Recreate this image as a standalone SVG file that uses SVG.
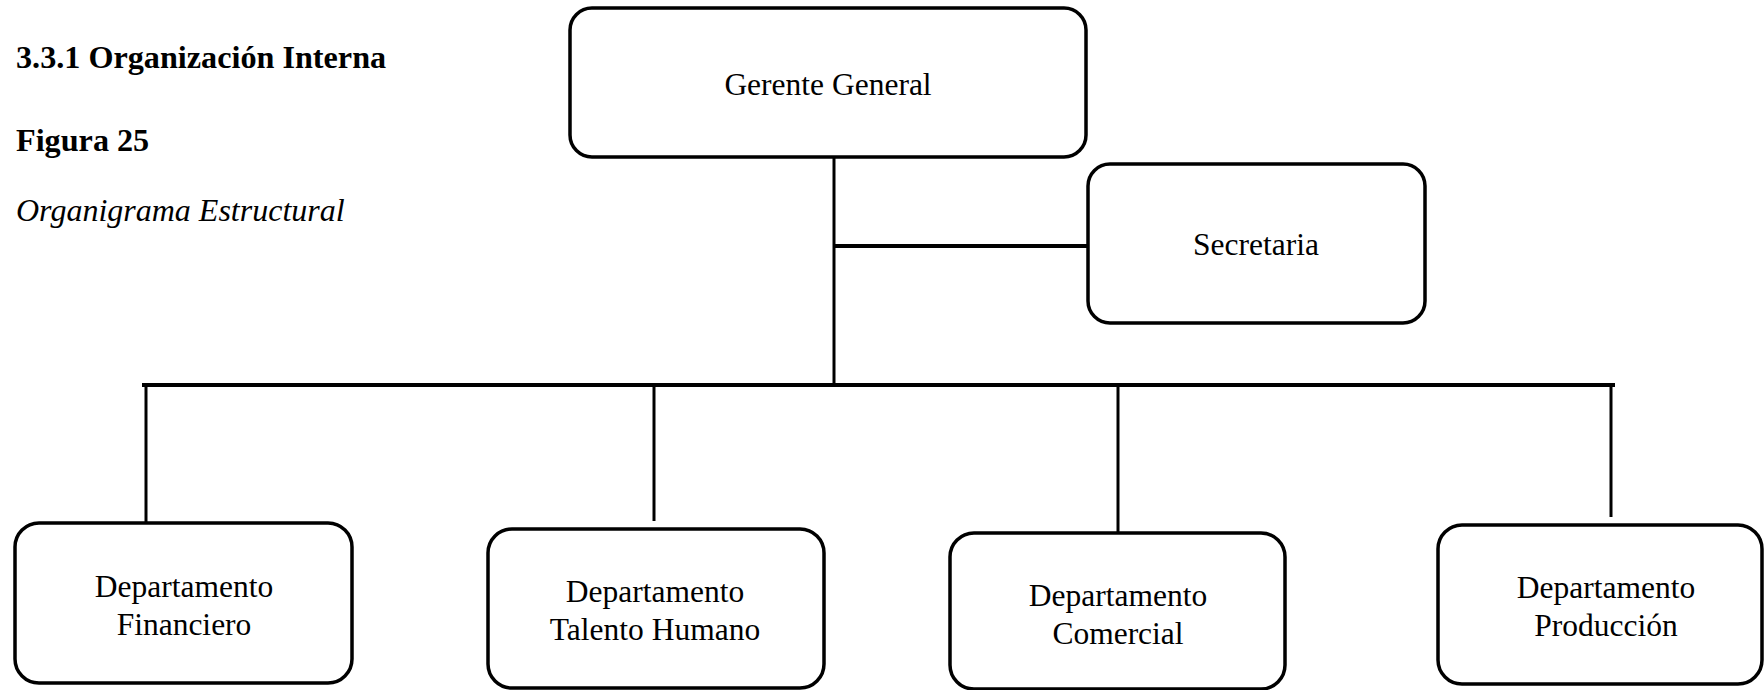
<svg xmlns="http://www.w3.org/2000/svg" width="1764" height="690" viewBox="0 0 1764 690">
  <style>
    text { font-family: "Liberation Serif", "Times New Roman", serif; font-size: 31.5px; fill: #000; }
    .head { font-weight: bold; font-size: 32.2px; }
    .cap { font-style: italic; font-size: 32px; }
    .lbl { text-anchor: middle; }
    .box { fill: #fff; stroke: #000; stroke-width: 3.5; }
    .wire { stroke: #000; stroke-width: 3; fill: none; }
    .bar { stroke: #000; stroke-width: 4; fill: none; }
  </style>
  <rect width="1764" height="690" fill="#fff"/>

  <!-- Heading and figure caption -->
  <g id="heading">
    <text class="head" x="16" y="68">3.3.1 Organización Interna</text>
    <text class="head" x="16" y="151">Figura 25</text>
    <text class="cap" x="16" y="221">Organigrama Estructural</text>
  </g>

  <!-- Connectors -->
  <g id="connectors">
    <line class="wire" x1="834" y1="157" x2="834" y2="386"/>
    <line class="bar" x1="834" y1="246" x2="1088" y2="246"/>
    <line class="bar" x1="142" y1="385" x2="1615" y2="385"/>
    <line class="wire" x1="146" y1="385" x2="146" y2="523"/>
    <line class="wire" x1="654" y1="385" x2="654" y2="521"/>
    <line class="wire" x1="1118" y1="385" x2="1118" y2="533"/>
    <line class="wire" x1="1611" y1="385" x2="1611" y2="517"/>
  </g>

  <!-- Top level -->
  <g id="gerente-general">
    <rect class="box" x="570" y="8" width="516" height="149" rx="22"/>
    <text class="lbl" x="828" y="95">Gerente General</text>
  </g>

  <g id="secretaria">
    <rect class="box" x="1088" y="164" width="337" height="159" rx="22"/>
    <text class="lbl" x="1256" y="255">Secretaria</text>
  </g>

  <!-- Departments -->
  <g id="dep-financiero">
    <rect class="box" x="15" y="523" width="337" height="160" rx="24"/>
    <text class="lbl" x="184" y="597">Departamento</text>
    <text class="lbl" x="184" y="635">Financiero</text>
  </g>

  <g id="dep-talento-humano">
    <rect class="box" x="488" y="529" width="336" height="159" rx="24"/>
    <text class="lbl" x="655" y="602">Departamento</text>
    <text class="lbl" x="655" y="640">Talento Humano</text>
  </g>

  <g id="dep-comercial">
    <rect class="box" x="950" y="533" width="335" height="156" rx="24"/>
    <text class="lbl" x="1118" y="606">Departamento</text>
    <text class="lbl" x="1118" y="644">Comercial</text>
  </g>

  <g id="dep-produccion">
    <rect class="box" x="1438" y="525" width="324" height="159" rx="24"/>
    <text class="lbl" x="1606" y="598">Departamento</text>
    <text class="lbl" x="1606" y="636">Producción</text>
  </g>
</svg>
